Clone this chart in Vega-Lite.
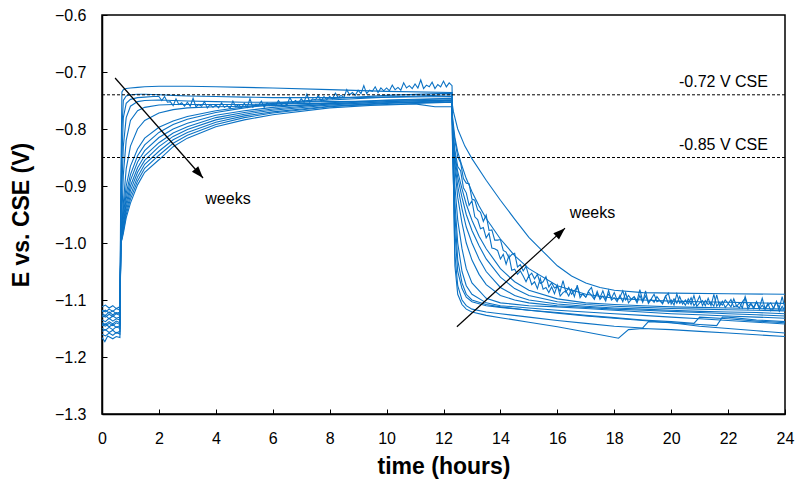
{
  "$schema": "https://vega.github.io/schema/vega-lite/v6.json",
  "width": 683,
  "height": 399,
  "autosize": {"type": "none"},
  "padding": {"left": 102, "top": 15, "right": 13, "bottom": 71},
  "background": "white",
  "config": {
    "font": "Liberation Sans",
    "view": {"stroke": "#000", "strokeWidth": 1.5},
    "axis": {
      "grid": false,
      "domainColor": "#000",
      "domainWidth": 1.5,
      "tickColor": "#000",
      "tickWidth": 1,
      "tickSize": -5,
      "labelPadding": 21,
      "labelFontSize": 16,
      "labelColor": "#000",
      "labelFont": "Liberation Sans",
      "labelFlush": false,
      "labelOverlap": false,
      "titleFont": "Liberation Sans",
      "titleFontSize": 23,
      "titleFontWeight": "bold",
      "titleColor": "#000"
    }
  },
  "datasets": {
    "runs": [
      {"w":1,"t":0,"e":-1.112},{"w":1,"t":0.12,"e":-1.109},{"w":1,"t":0.25,"e":-1.114},{"w":1,"t":0.38,"e":-1.11},{"w":1,"t":0.5,"e":-1.115},{"w":1,"t":0.63,"e":-1.112},
      {"w":1,"t":0.66,"e":-0.9},{"w":1,"t":0.7,"e":-0.735},{"w":1,"t":0.75,"e":-0.731},{"w":1,"t":0.85,"e":-0.729},{"w":1,"t":1,"e":-0.728},{"w":1,"t":1.25,"e":-0.727},{"w":1,"t":1.5,"e":-0.726},{"w":1,"t":2,"e":-0.725},{"w":1,"t":2.5,"e":-0.725},{"w":1,"t":3,"e":-0.725},{"w":1,"t":4,"e":-0.726},{"w":1,"t":5,"e":-0.727},{"w":1,"t":6,"e":-0.728},{"w":1,"t":8,"e":-0.731},{"w":1,"t":10,"e":-0.734},{"w":1,"t":12.3,"e":-0.736},
      {"w":1,"t":12.32,"e":-0.8},{"w":1,"t":12.4,"e":-1.04},{"w":1,"t":12.5,"e":-1.09},{"w":1,"t":12.65,"e":-1.108},{"w":1,"t":12.8,"e":-1.116},{"w":1,"t":13,"e":-1.121},{"w":1,"t":13.5,"e":-1.127},{"w":1,"t":14,"e":-1.131},{"w":1,"t":15,"e":-1.139},{"w":1,"t":16,"e":-1.147},{"w":1,"t":17,"e":-1.156},{"w":1,"t":18.15,"e":-1.167},{"w":1,"t":18.5,"e":-1.152},{"w":1,"t":19,"e":-1.15},{"w":1,"t":20,"e":-1.152},{"w":1,"t":21,"e":-1.155},{"w":1,"t":22,"e":-1.158},{"w":1,"t":23,"e":-1.161},{"w":1,"t":24,"e":-1.164},

      {"w":2,"t":0,"e":-1.118},{"w":2,"t":0.12,"e":-1.121},{"w":2,"t":0.25,"e":-1.116},{"w":2,"t":0.38,"e":-1.12},{"w":2,"t":0.5,"e":-1.115},{"w":2,"t":0.63,"e":-1.118},
      {"w":2,"t":0.66,"e":-0.95},{"w":2,"t":0.7,"e":-0.8},{"w":2,"t":0.75,"e":-0.75},{"w":2,"t":0.85,"e":-0.742},{"w":2,"t":1,"e":-0.74},{"w":2,"t":1.25,"e":-0.739},{"w":2,"t":1.5,"e":-0.739},{"w":2,"t":2,"e":-0.74},{"w":2,"t":2.5,"e":-0.741},{"w":2,"t":3,"e":-0.742},{"w":2,"t":4,"e":-0.743},{"w":2,"t":5,"e":-0.744},{"w":2,"t":6,"e":-0.745},{"w":2,"t":8,"e":-0.745},{"w":2,"t":10,"e":-0.744},{"w":2,"t":12.3,"e":-0.743},
      {"w":2,"t":12.32,"e":-0.82},{"w":2,"t":12.4,"e":-1.02},{"w":2,"t":12.5,"e":-1.075},{"w":2,"t":12.65,"e":-1.1},{"w":2,"t":12.8,"e":-1.11},{"w":2,"t":13,"e":-1.116},{"w":2,"t":13.5,"e":-1.121},{"w":2,"t":14,"e":-1.124},{"w":2,"t":15,"e":-1.13},{"w":2,"t":16,"e":-1.136},{"w":2,"t":17,"e":-1.141},{"w":2,"t":18,"e":-1.146},{"w":2,"t":19,"e":-1.149},{"w":2,"t":19.2,"e":-1.138},{"w":2,"t":20,"e":-1.14},{"w":2,"t":21,"e":-1.146},{"w":2,"t":22,"e":-1.15},{"w":2,"t":23,"e":-1.154},{"w":2,"t":24,"e":-1.158},

      {"w":3,"t":0,"e":-1.124},{"w":3,"t":0.12,"e":-1.127},{"w":3,"t":0.25,"e":-1.121},{"w":3,"t":0.38,"e":-1.126},{"w":3,"t":0.5,"e":-1.122},{"w":3,"t":0.63,"e":-1.124},
      {"w":3,"t":0.66,"e":-0.97},{"w":3,"t":0.7,"e":-0.85},{"w":3,"t":0.75,"e":-0.78},{"w":3,"t":0.85,"e":-0.755},{"w":3,"t":1,"e":-0.748},{"w":3,"t":1.25,"e":-0.745},{"w":3,"t":1.5,"e":-0.744},{"w":3,"t":1.8,"e":-0.743},
      {"w":3,"t":2,"e":-0.743},{"w":3,"t":2.1,"e":-0.75},{"w":3,"t":2.2,"e":-0.743},{"w":3,"t":2.3,"e":-0.753},{"w":3,"t":2.4,"e":-0.752},{"w":3,"t":2.5,"e":-0.759},{"w":3,"t":2.6,"e":-0.747},{"w":3,"t":2.7,"e":-0.757},{"w":3,"t":2.8,"e":-0.754},{"w":3,"t":2.9,"e":-0.76},
      {"w":3,"t":3,"e":-0.753},{"w":3,"t":3.1,"e":-0.76},{"w":3,"t":3.2,"e":-0.746},{"w":3,"t":3.3,"e":-0.761},{"w":3,"t":3.4,"e":-0.757},{"w":3,"t":3.5,"e":-0.76},{"w":3,"t":3.6,"e":-0.752},{"w":3,"t":3.7,"e":-0.763},{"w":3,"t":3.8,"e":-0.757},{"w":3,"t":3.9,"e":-0.762},
      {"w":3,"t":4,"e":-0.758},{"w":3,"t":4.1,"e":-0.763},{"w":3,"t":4.2,"e":-0.754},{"w":3,"t":4.3,"e":-0.762},{"w":3,"t":4.4,"e":-0.759},{"w":3,"t":4.5,"e":-0.764},{"w":3,"t":4.6,"e":-0.751},{"w":3,"t":4.7,"e":-0.761},{"w":3,"t":4.8,"e":-0.757},{"w":3,"t":4.9,"e":-0.763},
      {"w":3,"t":5,"e":-0.755},{"w":3,"t":5.1,"e":-0.762},{"w":3,"t":5.2,"e":-0.747},{"w":3,"t":5.3,"e":-0.762},{"w":3,"t":5.4,"e":-0.757},{"w":3,"t":5.5,"e":-0.759},{"w":3,"t":5.6,"e":-0.751},{"w":3,"t":5.7,"e":-0.762},{"w":3,"t":5.8,"e":-0.754},{"w":3,"t":5.9,"e":-0.759},
      {"w":3,"t":6,"e":-0.755},{"w":3,"t":6.1,"e":-0.759},{"w":3,"t":6.2,"e":-0.75},{"w":3,"t":6.3,"e":-0.757},{"w":3,"t":6.4,"e":-0.754},{"w":3,"t":6.5,"e":-0.758},{"w":3,"t":6.6,"e":-0.745},{"w":3,"t":6.7,"e":-0.754},{"w":3,"t":6.8,"e":-0.75},{"w":3,"t":6.9,"e":-0.755},
      {"w":3,"t":7,"e":-0.747},{"w":3,"t":7.1,"e":-0.753},{"w":3,"t":7.2,"e":-0.739},{"w":3,"t":7.3,"e":-0.753},{"w":3,"t":7.4,"e":-0.747},{"w":3,"t":7.5,"e":-0.749},{"w":3,"t":7.6,"e":-0.741},{"w":3,"t":7.7,"e":-0.751},{"w":3,"t":7.8,"e":-0.743},{"w":3,"t":7.9,"e":-0.748},
      {"w":3,"t":8,"e":-0.743},{"w":3,"t":8.1,"e":-0.747},{"w":3,"t":8.2,"e":-0.737},{"w":3,"t":8.3,"e":-0.745},{"w":3,"t":8.4,"e":-0.741},{"w":3,"t":8.5,"e":-0.745},{"w":3,"t":8.6,"e":-0.731},{"w":3,"t":8.7,"e":-0.74},{"w":3,"t":8.8,"e":-0.736},{"w":3,"t":8.9,"e":-0.741},
      {"w":3,"t":9,"e":-0.732},{"w":3,"t":9.1,"e":-0.738},{"w":3,"t":9.2,"e":-0.724},{"w":3,"t":9.3,"e":-0.738},{"w":3,"t":9.4,"e":-0.732},{"w":3,"t":9.5,"e":-0.734},{"w":3,"t":9.6,"e":-0.726},{"w":3,"t":9.7,"e":-0.736},{"w":3,"t":9.8,"e":-0.728},{"w":3,"t":9.9,"e":-0.733},
      {"w":3,"t":10,"e":-0.728},{"w":3,"t":10.1,"e":-0.733},{"w":3,"t":10.2,"e":-0.723},{"w":3,"t":10.3,"e":-0.731},{"w":3,"t":10.4,"e":-0.727},{"w":3,"t":10.5,"e":-0.732},{"w":3,"t":10.6,"e":-0.719},{"w":3,"t":10.7,"e":-0.728},{"w":3,"t":10.8,"e":-0.724},{"w":3,"t":10.9,"e":-0.729},
      {"w":3,"t":11,"e":-0.721},{"w":3,"t":11.1,"e":-0.728},{"w":3,"t":11.2,"e":-0.714},{"w":3,"t":11.3,"e":-0.729},{"w":3,"t":11.4,"e":-0.723},{"w":3,"t":11.5,"e":-0.726},{"w":3,"t":11.6,"e":-0.718},{"w":3,"t":11.7,"e":-0.729},{"w":3,"t":11.8,"e":-0.722},{"w":3,"t":11.9,"e":-0.726},
      {"w":3,"t":12,"e":-0.716},{"w":3,"t":12.1,"e":-0.726},{"w":3,"t":12.2,"e":-0.719},{"w":3,"t":12.3,"e":-0.724},
      {"w":3,"t":12.32,"e":-0.8},{"w":3,"t":12.4,"e":-0.95},{"w":3,"t":12.5,"e":-1.03},{"w":3,"t":12.65,"e":-1.07},{"w":3,"t":12.8,"e":-1.09},{"w":3,"t":13,"e":-1.1},{"w":3,"t":13.5,"e":-1.108},{"w":3,"t":14,"e":-1.112},{"w":3,"t":15,"e":-1.118},{"w":3,"t":16,"e":-1.123},{"w":3,"t":17,"e":-1.128},{"w":3,"t":18,"e":-1.132},{"w":3,"t":19,"e":-1.136},{"w":3,"t":20,"e":-1.14},{"w":3,"t":21,"e":-1.143},{"w":3,"t":21.6,"e":-1.145},{"w":3,"t":21.8,"e":-1.13},{"w":3,"t":22,"e":-1.13},{"w":3,"t":23,"e":-1.135},{"w":3,"t":24,"e":-1.138},

      {"w":4,"t":0,"e":-1.13},{"w":4,"t":0.12,"e":-1.127},{"w":4,"t":0.25,"e":-1.133},{"w":4,"t":0.38,"e":-1.128},{"w":4,"t":0.5,"e":-1.132},{"w":4,"t":0.63,"e":-1.13},
      {"w":4,"t":0.66,"e":-0.98},{"w":4,"t":0.7,"e":-0.9},{"w":4,"t":0.75,"e":-0.83},{"w":4,"t":0.85,"e":-0.78},{"w":4,"t":1,"e":-0.76},{"w":4,"t":1.25,"e":-0.752},{"w":4,"t":1.5,"e":-0.75},{"w":4,"t":2,"e":-0.749},{"w":4,"t":2.5,"e":-0.75},{"w":4,"t":3,"e":-0.751},{"w":4,"t":4,"e":-0.752},{"w":4,"t":5,"e":-0.753},{"w":4,"t":6,"e":-0.753},{"w":4,"t":8,"e":-0.752},{"w":4,"t":10,"e":-0.751},{"w":4,"t":12.3,"e":-0.75},
      {"w":4,"t":12.32,"e":-0.84},{"w":4,"t":12.4,"e":-0.98},{"w":4,"t":12.5,"e":-1.05},{"w":4,"t":12.65,"e":-1.08},{"w":4,"t":12.8,"e":-1.095},{"w":4,"t":13,"e":-1.103},{"w":4,"t":13.5,"e":-1.11},{"w":4,"t":14,"e":-1.113},{"w":4,"t":15,"e":-1.118},{"w":4,"t":16,"e":-1.122},{"w":4,"t":17,"e":-1.127},{"w":4,"t":18,"e":-1.131},{"w":4,"t":19,"e":-1.135},{"w":4,"t":20,"e":-1.138},{"w":4,"t":20.8,"e":-1.141},{"w":4,"t":21,"e":-1.13},{"w":4,"t":22,"e":-1.133},{"w":4,"t":23,"e":-1.137},{"w":4,"t":24,"e":-1.14},

      {"w":5,"t":0,"e":-1.135},{"w":5,"t":0.12,"e":-1.138},{"w":5,"t":0.25,"e":-1.132},{"w":5,"t":0.38,"e":-1.137},{"w":5,"t":0.5,"e":-1.133},{"w":5,"t":0.63,"e":-1.135},
      {"w":5,"t":0.66,"e":-1.0},{"w":5,"t":0.7,"e":-0.95},{"w":5,"t":0.75,"e":-0.88},{"w":5,"t":0.85,"e":-0.82},{"w":5,"t":1,"e":-0.785},{"w":5,"t":1.25,"e":-0.768},{"w":5,"t":1.5,"e":-0.762},{"w":5,"t":2,"e":-0.758},{"w":5,"t":2.5,"e":-0.757},{"w":5,"t":3,"e":-0.757},{"w":5,"t":4,"e":-0.757},{"w":5,"t":5,"e":-0.757},{"w":5,"t":6,"e":-0.756},{"w":5,"t":8,"e":-0.755},{"w":5,"t":10,"e":-0.754},{"w":5,"t":12.3,"e":-0.753},
      {"w":5,"t":12.32,"e":-0.83},{"w":5,"t":12.4,"e":-0.93},{"w":5,"t":12.5,"e":-1.0},{"w":5,"t":12.65,"e":-1.05},{"w":5,"t":12.8,"e":-1.075},{"w":5,"t":13,"e":-1.09},{"w":5,"t":13.5,"e":-1.105},{"w":5,"t":14,"e":-1.11},{"w":5,"t":15,"e":-1.114},{"w":5,"t":16,"e":-1.118},{"w":5,"t":17,"e":-1.121},{"w":5,"t":18,"e":-1.124},{"w":5,"t":19,"e":-1.127},{"w":5,"t":20,"e":-1.13},{"w":5,"t":21,"e":-1.133},{"w":5,"t":22,"e":-1.136},{"w":5,"t":23,"e":-1.139},{"w":5,"t":24,"e":-1.142},

      {"w":6,"t":0,"e":-1.14},{"w":6,"t":0.12,"e":-1.143},{"w":6,"t":0.25,"e":-1.138},{"w":6,"t":0.38,"e":-1.142},{"w":6,"t":0.5,"e":-1.137},{"w":6,"t":0.63,"e":-1.14},
      {"w":6,"t":0.66,"e":-1.0},{"w":6,"t":0.7,"e":-0.97},{"w":6,"t":0.75,"e":-0.93},{"w":6,"t":0.85,"e":-0.87},{"w":6,"t":1,"e":-0.83},{"w":6,"t":1.25,"e":-0.8},{"w":6,"t":1.5,"e":-0.785},{"w":6,"t":2,"e":-0.772},{"w":6,"t":2.5,"e":-0.766},{"w":6,"t":3,"e":-0.763},{"w":6,"t":4,"e":-0.761},{"w":6,"t":5,"e":-0.76},{"w":6,"t":6,"e":-0.759},{"w":6,"t":8,"e":-0.758},{"w":6,"t":10,"e":-0.758},{"w":6,"t":11,"e":-0.756},{"w":6,"t":11.7,"e":-0.761},{"w":6,"t":12.3,"e":-0.761},
      {"w":6,"t":12.32,"e":-0.83},{"w":6,"t":12.4,"e":-0.9},{"w":6,"t":12.5,"e":-0.96},{"w":6,"t":12.65,"e":-1.01},{"w":6,"t":12.8,"e":-1.045},{"w":6,"t":13,"e":-1.07},{"w":6,"t":13.5,"e":-1.097},{"w":6,"t":14,"e":-1.105},{"w":6,"t":15,"e":-1.11},{"w":6,"t":16,"e":-1.112},{"w":6,"t":17,"e":-1.115},{"w":6,"t":18,"e":-1.118},{"w":6,"t":19,"e":-1.121},{"w":6,"t":20,"e":-1.124},{"w":6,"t":21,"e":-1.126},{"w":6,"t":22,"e":-1.128},{"w":6,"t":23,"e":-1.13},{"w":6,"t":24,"e":-1.132},

      {"w":7,"t":0,"e":-1.145},{"w":7,"t":0.12,"e":-1.142},{"w":7,"t":0.25,"e":-1.147},{"w":7,"t":0.38,"e":-1.143},{"w":7,"t":0.5,"e":-1.148},{"w":7,"t":0.63,"e":-1.145},
      {"w":7,"t":0.66,"e":-1.0},{"w":7,"t":0.7,"e":-0.97},{"w":7,"t":0.75,"e":-0.94},{"w":7,"t":0.85,"e":-0.9},{"w":7,"t":1,"e":-0.865},{"w":7,"t":1.25,"e":-0.835},{"w":7,"t":1.5,"e":-0.816},{"w":7,"t":2,"e":-0.797},{"w":7,"t":2.5,"e":-0.786},{"w":7,"t":3,"e":-0.778},{"w":7,"t":4,"e":-0.768},{"w":7,"t":5,"e":-0.761},{"w":7,"t":6,"e":-0.755},{"w":7,"t":8,"e":-0.747},{"w":7,"t":10,"e":-0.741},{"w":7,"t":12.3,"e":-0.737},
      {"w":7,"t":12.32,"e":-0.8},{"w":7,"t":12.4,"e":-0.87},{"w":7,"t":12.5,"e":-0.92},{"w":7,"t":12.65,"e":-0.965},{"w":7,"t":12.8,"e":-1.0},{"w":7,"t":13,"e":-1.03},{"w":7,"t":13.25,"e":-1.055},{"w":7,"t":13.5,"e":-1.073},{"w":7,"t":14,"e":-1.092},{"w":7,"t":14.5,"e":-1.1},{"w":7,"t":15,"e":-1.105},{"w":7,"t":16,"e":-1.11},{"w":7,"t":17,"e":-1.113},{"w":7,"t":18,"e":-1.116},{"w":7,"t":19,"e":-1.118},{"w":7,"t":20,"e":-1.12},{"w":7,"t":21,"e":-1.122},{"w":7,"t":22,"e":-1.124},{"w":7,"t":23,"e":-1.126},{"w":7,"t":24,"e":-1.128},

      {"w":8,"t":0,"e":-1.15},{"w":8,"t":0.12,"e":-1.153},{"w":8,"t":0.25,"e":-1.148},{"w":8,"t":0.38,"e":-1.152},{"w":8,"t":0.5,"e":-1.147},{"w":8,"t":0.63,"e":-1.15},
      {"w":8,"t":0.66,"e":-1.0},{"w":8,"t":0.7,"e":-0.975},{"w":8,"t":0.75,"e":-0.95},{"w":8,"t":0.85,"e":-0.913},{"w":8,"t":1,"e":-0.88},{"w":8,"t":1.25,"e":-0.847},{"w":8,"t":1.5,"e":-0.828},{"w":8,"t":2,"e":-0.806},{"w":8,"t":2.5,"e":-0.792},{"w":8,"t":3,"e":-0.783},{"w":8,"t":4,"e":-0.771},{"w":8,"t":5,"e":-0.763},{"w":8,"t":6,"e":-0.757},{"w":8,"t":8,"e":-0.749},{"w":8,"t":10,"e":-0.744},{"w":8,"t":12.3,"e":-0.74},
      {"w":8,"t":12.32,"e":-0.8},{"w":8,"t":12.4,"e":-0.86},{"w":8,"t":12.5,"e":-0.9},{"w":8,"t":12.65,"e":-0.94},{"w":8,"t":12.8,"e":-0.972},{"w":8,"t":13,"e":-1.0},{"w":8,"t":13.25,"e":-1.028},{"w":8,"t":13.5,"e":-1.05},{"w":8,"t":14,"e":-1.078},{"w":8,"t":14.5,"e":-1.092},{"w":8,"t":15,"e":-1.1},{"w":8,"t":16,"e":-1.107},{"w":8,"t":17,"e":-1.111},{"w":8,"t":18,"e":-1.114},{"w":8,"t":19,"e":-1.116},{"w":8,"t":20,"e":-1.118},{"w":8,"t":21,"e":-1.12},{"w":8,"t":22,"e":-1.121},{"w":8,"t":23,"e":-1.122},{"w":8,"t":24,"e":-1.124},

      {"w":9,"t":0,"e":-1.155},{"w":9,"t":0.12,"e":-1.152},{"w":9,"t":0.25,"e":-1.157},{"w":9,"t":0.38,"e":-1.153},{"w":9,"t":0.5,"e":-1.158},{"w":9,"t":0.63,"e":-1.155},
      {"w":9,"t":0.66,"e":-1.0},{"w":9,"t":0.7,"e":-0.98},{"w":9,"t":0.75,"e":-0.958},{"w":9,"t":0.85,"e":-0.922},{"w":9,"t":1,"e":-0.89},{"w":9,"t":1.25,"e":-0.858},{"w":9,"t":1.5,"e":-0.838},{"w":9,"t":2,"e":-0.815},{"w":9,"t":2.5,"e":-0.8},{"w":9,"t":3,"e":-0.79},{"w":9,"t":4,"e":-0.776},{"w":9,"t":5,"e":-0.768},{"w":9,"t":6,"e":-0.762},{"w":9,"t":8,"e":-0.754},{"w":9,"t":10,"e":-0.749},{"w":9,"t":12.3,"e":-0.746},
      {"w":9,"t":12.32,"e":-0.8},{"w":9,"t":12.4,"e":-0.85},{"w":9,"t":12.5,"e":-0.885},{"w":9,"t":12.65,"e":-0.92},{"w":9,"t":12.8,"e":-0.95},{"w":9,"t":13,"e":-0.978},{"w":9,"t":13.25,"e":-1.005},{"w":9,"t":13.5,"e":-1.028},{"w":9,"t":14,"e":-1.06},{"w":9,"t":14.5,"e":-1.08},{"w":9,"t":15,"e":-1.092},{"w":9,"t":16,"e":-1.103},{"w":9,"t":17,"e":-1.108},{"w":9,"t":18,"e":-1.111},{"w":9,"t":19,"e":-1.113},{"w":9,"t":20,"e":-1.115},{"w":9,"t":21,"e":-1.116},{"w":9,"t":22,"e":-1.117},{"w":9,"t":23,"e":-1.118},{"w":9,"t":24,"e":-1.119},

      {"w":10,"t":0,"e":-1.16},{"w":10,"t":0.12,"e":-1.163},{"w":10,"t":0.25,"e":-1.158},{"w":10,"t":0.38,"e":-1.162},{"w":10,"t":0.5,"e":-1.157},{"w":10,"t":0.63,"e":-1.16},
      {"w":10,"t":0.66,"e":-1.0},{"w":10,"t":0.7,"e":-0.985},{"w":10,"t":0.75,"e":-0.965},{"w":10,"t":0.85,"e":-0.93},{"w":10,"t":1,"e":-0.9},{"w":10,"t":1.25,"e":-0.868},{"w":10,"t":1.5,"e":-0.847},{"w":10,"t":2,"e":-0.824},{"w":10,"t":2.5,"e":-0.807},{"w":10,"t":3,"e":-0.796},{"w":10,"t":4,"e":-0.78},{"w":10,"t":5,"e":-0.771},{"w":10,"t":6,"e":-0.765},{"w":10,"t":8,"e":-0.756},{"w":10,"t":10,"e":-0.75},{"w":10,"t":12.3,"e":-0.747},
      {"w":10,"t":12.32,"e":-0.8},{"w":10,"t":12.4,"e":-0.845},{"w":10,"t":12.5,"e":-0.875},{"w":10,"t":12.65,"e":-0.905},{"w":10,"t":12.8,"e":-0.932},{"w":10,"t":13,"e":-0.96},{"w":10,"t":13.25,"e":-0.988},{"w":10,"t":13.5,"e":-1.01},{"w":10,"t":14,"e":-1.045},{"w":10,"t":14.5,"e":-1.068},{"w":10,"t":15,"e":-1.083},{"w":10,"t":16,"e":-1.098},{"w":10,"t":17,"e":-1.105},{"w":10,"t":18,"e":-1.108},{"w":10,"t":19,"e":-1.11},{"w":10,"t":20,"e":-1.112},{"w":10,"t":21,"e":-1.113},{"w":10,"t":22,"e":-1.114},{"w":10,"t":23,"e":-1.115},{"w":10,"t":24,"e":-1.116},

      {"w":11,"t":0,"e":-1.121},{"w":11,"t":0.12,"e":-1.118},{"w":11,"t":0.25,"e":-1.123},{"w":11,"t":0.38,"e":-1.119},{"w":11,"t":0.5,"e":-1.124},{"w":11,"t":0.63,"e":-1.121},
      {"w":11,"t":0.66,"e":-1.0},{"w":11,"t":0.7,"e":-0.988},{"w":11,"t":0.75,"e":-0.97},{"w":11,"t":0.85,"e":-0.937},{"w":11,"t":1,"e":-0.908},{"w":11,"t":1.25,"e":-0.876},{"w":11,"t":1.5,"e":-0.855},{"w":11,"t":2,"e":-0.831},{"w":11,"t":2.5,"e":-0.813},{"w":11,"t":3,"e":-0.801},{"w":11,"t":4,"e":-0.784},{"w":11,"t":5,"e":-0.774},{"w":11,"t":6,"e":-0.767},{"w":11,"t":8,"e":-0.758},{"w":11,"t":10,"e":-0.752},{"w":11,"t":12.3,"e":-0.749},
      {"w":11,"t":12.32,"e":-0.8},
      {"w":11,"t":12.4,"e":-0.837},{"w":11,"t":12.5,"e":-0.866},{"w":11,"t":12.6,"e":-0.873},{"w":11,"t":12.7,"e":-0.903},{"w":11,"t":12.8,"e":-0.912},{"w":11,"t":12.9,"e":-0.934},{"w":11,"t":13,"e":-0.926},{"w":11,"t":13.1,"e":-0.954},{"w":11,"t":13.2,"e":-0.959},{"w":11,"t":13.3,"e":-0.975},
      {"w":11,"t":13.4,"e":-0.973},{"w":11,"t":13.5,"e":-0.991},{"w":11,"t":13.6,"e":-0.983},{"w":11,"t":13.7,"e":-1.009},{"w":11,"t":13.8,"e":-1.01},{"w":11,"t":13.9,"e":-1.013},{"w":11,"t":14,"e":-1.028},{"w":11,"t":14.1,"e":-1.02},{"w":11,"t":14.2,"e":-1.037},{"w":11,"t":14.3,"e":-1.022},
      {"w":11,"t":14.4,"e":-1.048},{"w":11,"t":14.5,"e":-1.046},{"w":11,"t":14.6,"e":-1.055},{"w":11,"t":14.7,"e":-1.049},{"w":11,"t":14.8,"e":-1.058},{"w":11,"t":14.9,"e":-1.068},{"w":11,"t":15,"e":-1.057},{"w":11,"t":15.1,"e":-1.073},{"w":11,"t":15.2,"e":-1.068},{"w":11,"t":15.3,"e":-1.08},
      {"w":11,"t":15.4,"e":-1.062},{"w":11,"t":15.5,"e":-1.081},{"w":11,"t":15.6,"e":-1.078},{"w":11,"t":15.7,"e":-1.087},{"w":11,"t":15.8,"e":-1.077},{"w":11,"t":15.9,"e":-1.089},{"w":11,"t":16,"e":-1.074},{"w":11,"t":16.1,"e":-1.093},{"w":11,"t":16.2,"e":-1.087},{"w":11,"t":16.3,"e":-1.084},
      {"w":11,"t":16.4,"e":-1.093},{"w":11,"t":16.5,"e":-1.081},{"w":11,"t":16.6,"e":-1.094},{"w":11,"t":16.7,"e":-1.074},{"w":11,"t":16.8,"e":-1.096},{"w":11,"t":16.9,"e":-1.089},{"w":11,"t":17,"e":-1.095},{"w":11,"t":17.1,"e":-1.086},{"w":11,"t":17.2,"e":-1.092},{"w":11,"t":17.3,"e":-1.099},
      {"w":11,"t":17.4,"e":-1.085},{"w":11,"t":17.5,"e":-1.099},{"w":11,"t":17.6,"e":-1.093},{"w":11,"t":17.7,"e":-1.102},{"w":11,"t":17.8,"e":-1.083},{"w":11,"t":17.9,"e":-1.1},{"w":11,"t":18,"e":-1.096},{"w":11,"t":18.1,"e":-1.103},{"w":11,"t":18.2,"e":-1.092},{"w":11,"t":18.3,"e":-1.103},
      {"w":11,"t":18.4,"e":-1.087},{"w":11,"t":18.5,"e":-1.105},{"w":11,"t":18.6,"e":-1.099},{"w":11,"t":18.7,"e":-1.095},{"w":11,"t":18.8,"e":-1.105},{"w":11,"t":18.9,"e":-1.092},{"w":11,"t":19,"e":-1.104},{"w":11,"t":19.1,"e":-1.084},{"w":11,"t":19.2,"e":-1.106},{"w":11,"t":19.3,"e":-1.099},
      {"w":11,"t":19.4,"e":-1.104},{"w":11,"t":19.5,"e":-1.094},{"w":11,"t":19.6,"e":-1.101},{"w":11,"t":19.7,"e":-1.107},{"w":11,"t":19.8,"e":-1.093},{"w":11,"t":19.9,"e":-1.106},{"w":11,"t":20,"e":-1.1},{"w":11,"t":20.1,"e":-1.109},{"w":11,"t":20.2,"e":-1.089},{"w":11,"t":20.3,"e":-1.106},
      {"w":11,"t":20.4,"e":-1.102},{"w":11,"t":20.5,"e":-1.109},{"w":11,"t":20.6,"e":-1.098},{"w":11,"t":20.7,"e":-1.108},{"w":11,"t":20.8,"e":-1.092},{"w":11,"t":20.9,"e":-1.111},{"w":11,"t":21,"e":-1.105},{"w":11,"t":21.1,"e":-1.101},{"w":11,"t":21.2,"e":-1.11},{"w":11,"t":21.3,"e":-1.097},
      {"w":11,"t":21.4,"e":-1.11},{"w":11,"t":21.5,"e":-1.09},{"w":11,"t":21.6,"e":-1.111},{"w":11,"t":21.7,"e":-1.104},{"w":11,"t":21.8,"e":-1.109},{"w":11,"t":21.9,"e":-1.1},{"w":11,"t":22,"e":-1.106},{"w":11,"t":22.1,"e":-1.112},{"w":11,"t":22.2,"e":-1.098},{"w":11,"t":22.3,"e":-1.111},
      {"w":11,"t":22.4,"e":-1.105},{"w":11,"t":22.5,"e":-1.114},{"w":11,"t":22.6,"e":-1.094},{"w":11,"t":22.7,"e":-1.111},{"w":11,"t":22.8,"e":-1.106},{"w":11,"t":22.9,"e":-1.113},{"w":11,"t":23,"e":-1.103},{"w":11,"t":23.1,"e":-1.113},{"w":11,"t":23.2,"e":-1.097},{"w":11,"t":23.3,"e":-1.115},
      {"w":11,"t":23.4,"e":-1.109},{"w":11,"t":23.5,"e":-1.105},{"w":11,"t":23.6,"e":-1.115},{"w":11,"t":23.7,"e":-1.102},{"w":11,"t":23.8,"e":-1.114},{"w":11,"t":23.9,"e":-1.094},{"w":11,"t":24,"e":-1.115},

      {"w":12,"t":0,"e":-1.127},{"w":12,"t":0.12,"e":-1.13},{"w":12,"t":0.25,"e":-1.125},{"w":12,"t":0.38,"e":-1.129},{"w":12,"t":0.5,"e":-1.124},{"w":12,"t":0.63,"e":-1.127},
      {"w":12,"t":0.66,"e":-1.0},{"w":12,"t":0.7,"e":-0.99},{"w":12,"t":0.75,"e":-0.975},{"w":12,"t":0.85,"e":-0.944},{"w":12,"t":1,"e":-0.916},{"w":12,"t":1.25,"e":-0.884},{"w":12,"t":1.5,"e":-0.862},{"w":12,"t":2,"e":-0.839},{"w":12,"t":2.5,"e":-0.819},{"w":12,"t":3,"e":-0.806},{"w":12,"t":4,"e":-0.788},{"w":12,"t":5,"e":-0.777},{"w":12,"t":6,"e":-0.77},{"w":12,"t":8,"e":-0.76},{"w":12,"t":10,"e":-0.754},{"w":12,"t":12.3,"e":-0.75},
      {"w":12,"t":12.32,"e":-0.79},
      {"w":12,"t":12.4,"e":-0.82},{"w":12,"t":12.5,"e":-0.849},{"w":12,"t":12.6,"e":-0.859},{"w":12,"t":12.7,"e":-0.887},{"w":12,"t":12.8,"e":-0.895},{"w":12,"t":12.9,"e":-0.896},{"w":12,"t":13,"e":-0.923},{"w":12,"t":13.1,"e":-0.925},{"w":12,"t":13.2,"e":-0.942},{"w":12,"t":13.3,"e":-0.946},
      {"w":12,"t":13.4,"e":-0.962},{"w":12,"t":13.5,"e":-0.951},{"w":12,"t":13.6,"e":-0.978},{"w":12,"t":13.7,"e":-0.977},{"w":12,"t":13.8,"e":-0.995},{"w":12,"t":13.9,"e":-0.995},{"w":12,"t":14,"e":-0.994},{"w":12,"t":14.1,"e":-1.013},{"w":12,"t":14.2,"e":-1.016},{"w":12,"t":14.3,"e":-1.026},
      {"w":12,"t":14.4,"e":-1.02},{"w":12,"t":14.5,"e":-1.018},{"w":12,"t":14.6,"e":-1.042},{"w":12,"t":14.7,"e":-1.038},{"w":12,"t":14.8,"e":-1.049},{"w":12,"t":14.9,"e":-1.041},{"w":12,"t":15,"e":-1.058},{"w":12,"t":15.1,"e":-1.053},{"w":12,"t":15.2,"e":-1.063},{"w":12,"t":15.3,"e":-1.055},
      {"w":12,"t":15.4,"e":-1.071},{"w":12,"t":15.5,"e":-1.068},{"w":12,"t":15.6,"e":-1.059},{"w":12,"t":15.7,"e":-1.077},{"w":12,"t":15.8,"e":-1.07},{"w":12,"t":15.9,"e":-1.079},{"w":12,"t":16,"e":-1.076},{"w":12,"t":16.1,"e":-1.085},{"w":12,"t":16.2,"e":-1.066},{"w":12,"t":16.3,"e":-1.086},
      {"w":12,"t":16.4,"e":-1.078},{"w":12,"t":16.5,"e":-1.09},{"w":12,"t":16.6,"e":-1.084},{"w":12,"t":16.7,"e":-1.077},{"w":12,"t":16.8,"e":-1.091},{"w":12,"t":16.9,"e":-1.09},{"w":12,"t":17,"e":-1.095},{"w":12,"t":17.1,"e":-1.084},{"w":12,"t":17.2,"e":-1.078},{"w":12,"t":17.3,"e":-1.097},
      {"w":12,"t":17.4,"e":-1.089},{"w":12,"t":17.5,"e":-1.096},{"w":12,"t":17.6,"e":-1.084},{"w":12,"t":17.7,"e":-1.098},{"w":12,"t":17.8,"e":-1.09},{"w":12,"t":17.9,"e":-1.097},{"w":12,"t":18,"e":-1.087},{"w":12,"t":18.1,"e":-1.1},{"w":12,"t":18.2,"e":-1.095},{"w":12,"t":18.3,"e":-1.084},
      {"w":12,"t":18.4,"e":-1.1},{"w":12,"t":18.5,"e":-1.092},{"w":12,"t":18.6,"e":-1.099},{"w":12,"t":18.7,"e":-1.094},{"w":12,"t":18.8,"e":-1.102},{"w":12,"t":18.9,"e":-1.082},{"w":12,"t":19,"e":-1.102},{"w":12,"t":19.1,"e":-1.093},{"w":12,"t":19.2,"e":-1.104},{"w":12,"t":19.3,"e":-1.098},
      {"w":12,"t":19.4,"e":-1.09},{"w":12,"t":19.5,"e":-1.103},{"w":12,"t":19.6,"e":-1.101},{"w":12,"t":19.7,"e":-1.105},{"w":12,"t":19.8,"e":-1.094},{"w":12,"t":19.9,"e":-1.088},{"w":12,"t":20,"e":-1.107},{"w":12,"t":20.1,"e":-1.098},{"w":12,"t":20.2,"e":-1.106},{"w":12,"t":20.3,"e":-1.094},
      {"w":12,"t":20.4,"e":-1.107},{"w":12,"t":20.5,"e":-1.1},{"w":12,"t":20.6,"e":-1.107},{"w":12,"t":20.7,"e":-1.096},{"w":12,"t":20.8,"e":-1.11},{"w":12,"t":20.9,"e":-1.104},{"w":12,"t":21,"e":-1.093},{"w":12,"t":21.1,"e":-1.11},{"w":12,"t":21.2,"e":-1.101},{"w":12,"t":21.3,"e":-1.108},
      {"w":12,"t":21.4,"e":-1.104},{"w":12,"t":21.5,"e":-1.111},{"w":12,"t":21.6,"e":-1.091},{"w":12,"t":21.7,"e":-1.111},{"w":12,"t":21.8,"e":-1.102},{"w":12,"t":21.9,"e":-1.113},{"w":12,"t":22,"e":-1.107},{"w":12,"t":22.1,"e":-1.099},{"w":12,"t":22.2,"e":-1.112},{"w":12,"t":22.3,"e":-1.11},
      {"w":12,"t":22.4,"e":-1.114},{"w":12,"t":22.5,"e":-1.103},{"w":12,"t":22.6,"e":-1.097},{"w":12,"t":22.7,"e":-1.116},{"w":12,"t":22.8,"e":-1.107},{"w":12,"t":22.9,"e":-1.115},{"w":12,"t":23,"e":-1.103},{"w":12,"t":23.1,"e":-1.116},{"w":12,"t":23.2,"e":-1.109},{"w":12,"t":23.3,"e":-1.116},
      {"w":12,"t":23.4,"e":-1.106},{"w":12,"t":23.5,"e":-1.119},{"w":12,"t":23.6,"e":-1.114},{"w":12,"t":23.7,"e":-1.103},{"w":12,"t":23.8,"e":-1.12},{"w":12,"t":23.9,"e":-1.111},{"w":12,"t":24,"e":-1.119},

      {"w":13,"t":0,"e":-1.143},{"w":13,"t":0.12,"e":-1.146},{"w":13,"t":0.25,"e":-1.141},{"w":13,"t":0.38,"e":-1.145},{"w":13,"t":0.5,"e":-1.14},{"w":13,"t":0.63,"e":-1.143},
      {"w":13,"t":0.66,"e":-1.0},{"w":13,"t":0.7,"e":-0.992},{"w":13,"t":0.75,"e":-0.979},{"w":13,"t":0.85,"e":-0.95},{"w":13,"t":1,"e":-0.923},{"w":13,"t":1.25,"e":-0.891},{"w":13,"t":1.5,"e":-0.869},{"w":13,"t":2,"e":-0.846},{"w":13,"t":2.5,"e":-0.825},{"w":13,"t":3,"e":-0.811},{"w":13,"t":4,"e":-0.792},{"w":13,"t":5,"e":-0.78},{"w":13,"t":6,"e":-0.772},{"w":13,"t":8,"e":-0.761},{"w":13,"t":10,"e":-0.755},{"w":13,"t":12.3,"e":-0.751},
      {"w":13,"t":12.32,"e":-0.78},{"w":13,"t":12.4,"e":-0.815},{"w":13,"t":12.5,"e":-0.84},{"w":13,"t":12.65,"e":-0.865},{"w":13,"t":12.8,"e":-0.887},{"w":13,"t":13,"e":-0.91},{"w":13,"t":13.25,"e":-0.935},{"w":13,"t":13.5,"e":-0.957},{"w":13,"t":14,"e":-0.993},{"w":13,"t":14.5,"e":-1.022},{"w":13,"t":15,"e":-1.045},{"w":13,"t":16,"e":-1.075},{"w":13,"t":17,"e":-1.09},{"w":13,"t":18,"e":-1.097},{"w":13,"t":19,"e":-1.1},{"w":13,"t":20,"e":-1.102},{"w":13,"t":21,"e":-1.103},{"w":13,"t":22,"e":-1.104},{"w":13,"t":23,"e":-1.105},{"w":13,"t":24,"e":-1.106},

      {"w":14,"t":0,"e":-1.166},{"w":14,"t":0.1,"e":-1.173},{"w":14,"t":0.2,"e":-1.163},{"w":14,"t":0.38,"e":-1.168},{"w":14,"t":0.5,"e":-1.164},{"w":14,"t":0.63,"e":-1.166},
      {"w":14,"t":0.66,"e":-1.0},{"w":14,"t":0.7,"e":-0.994},{"w":14,"t":0.75,"e":-0.983},{"w":14,"t":0.85,"e":-0.956},{"w":14,"t":1,"e":-0.93},{"w":14,"t":1.25,"e":-0.898},{"w":14,"t":1.5,"e":-0.876},{"w":14,"t":2,"e":-0.854},{"w":14,"t":2.5,"e":-0.831},{"w":14,"t":3,"e":-0.816},{"w":14,"t":4,"e":-0.796},{"w":14,"t":5,"e":-0.784},{"w":14,"t":6,"e":-0.775},{"w":14,"t":8,"e":-0.763},{"w":14,"t":10,"e":-0.757},{"w":14,"t":12.3,"e":-0.753},
      {"w":14,"t":12.35,"e":-0.77},{"w":14,"t":12.5,"e":-0.8},{"w":14,"t":12.75,"e":-0.83},{"w":14,"t":13,"e":-0.852},{"w":14,"t":13.5,"e":-0.89},{"w":14,"t":14,"e":-0.925},{"w":14,"t":14.5,"e":-0.958},{"w":14,"t":15,"e":-0.99},{"w":14,"t":15.5,"e":-1.015},{"w":14,"t":16,"e":-1.04},{"w":14,"t":16.5,"e":-1.058},{"w":14,"t":17,"e":-1.07},{"w":14,"t":17.5,"e":-1.078},{"w":14,"t":18,"e":-1.083},{"w":14,"t":19,"e":-1.087},{"w":14,"t":20,"e":-1.088},{"w":14,"t":22,"e":-1.089},{"w":14,"t":24,"e":-1.09}
    ],
    "refs": [
      {"v": -0.74, "label": "-0.72 V CSE"},
      {"v": -0.85, "label": "-0.85 V CSE"}
    ],
    "arrows": [
      {"dir": "rise", "t0": 0.46, "e0": -0.7105, "t1": 3.55, "e1": -0.886, "tx": 3.63, "ex": -0.923, "note": "weeks"},
      {"dir": "fall", "t0": 12.47, "e0": -1.147, "t1": 16.27, "e1": -0.974, "tx": 16.44, "ex": -0.947, "note": "weeks"}
    ]
  },
  "layer": [
    {
      "data": {"name": "runs"},
      "mark": {"type": "line", "color": "#0B72C4", "strokeWidth": 1.1, "clip": true},
      "encoding": {
        "x": {
          "field": "t", "type": "quantitative",
          "scale": {"domain": [0, 24], "nice": false, "zero": false},
          "axis": {"title": "time (hours)", "values": [0, 2, 4, 6, 8, 10, 12, 14, 16, 18, 20, 22, 24], "format": "d", "titlePadding": 9}
        },
        "y": {
          "field": "e", "type": "quantitative",
          "scale": {"domain": [-1.3, -0.6], "nice": false, "zero": false},
          "axis": {"title": "E vs. CSE (V)", "values": [-1.3, -1.2, -1.1, -1.0, -0.9, -0.8, -0.7, -0.6], "format": ".1f", "titlePadding": 21}
        },
        "detail": {"field": "w", "type": "nominal"},
        "order": {"field": "t", "type": "quantitative"}
      }
    },
    {
      "data": {"name": "refs"},
      "mark": {"type": "rule", "color": "#000", "strokeWidth": 1, "strokeDash": [3, 2]},
      "encoding": {"y": {"field": "v", "type": "quantitative"}}
    },
    {
      "data": {"name": "refs"},
      "mark": {"type": "text", "align": "right", "baseline": "alphabetic", "dy": -8, "fontSize": 16, "color": "#000", "font": "Liberation Sans"},
      "encoding": {
        "x": {"datum": 23.4, "type": "quantitative"},
        "y": {"field": "v", "type": "quantitative"},
        "text": {"field": "label"}
      }
    },
    {
      "data": {"name": "arrows"},
      "mark": {"type": "rule", "color": "#000", "strokeWidth": 1.2},
      "encoding": {
        "x": {"field": "t0", "type": "quantitative"},
        "y": {"field": "e0", "type": "quantitative"},
        "x2": {"field": "t1"},
        "y2": {"field": "e1"}
      }
    },
    {
      "data": {"name": "arrows"},
      "transform": [{"filter": "datum.dir === 'rise'"}],
      "mark": {"type": "point", "shape": "M0,0L-0.7,2L0.7,2Z", "filled": true, "color": "#000", "opacity": 1, "size": 144, "angle": 138.6},
      "encoding": {
        "x": {"field": "t1", "type": "quantitative"},
        "y": {"field": "e1", "type": "quantitative"}
      }
    },
    {
      "data": {"name": "arrows"},
      "transform": [{"filter": "datum.dir === 'fall'"}],
      "mark": {"type": "point", "shape": "M0,0L-0.7,2L0.7,2Z", "filled": true, "color": "#000", "opacity": 1, "size": 144, "angle": 47.5},
      "encoding": {
        "x": {"field": "t1", "type": "quantitative"},
        "y": {"field": "e1", "type": "quantitative"}
      }
    },
    {
      "data": {"name": "arrows"},
      "mark": {"type": "text", "align": "left", "baseline": "middle", "fontSize": 16, "color": "#000", "font": "Liberation Sans"},
      "encoding": {
        "x": {"field": "tx", "type": "quantitative"},
        "y": {"field": "ex", "type": "quantitative"},
        "text": {"field": "note"}
      }
    }
  ]
}
